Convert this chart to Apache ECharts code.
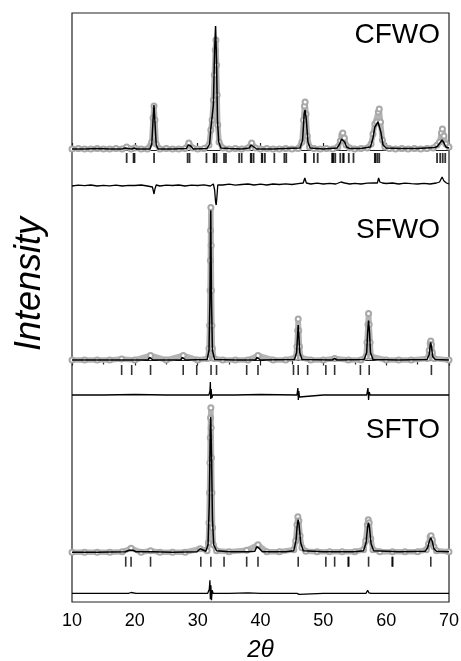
<!DOCTYPE html>
<html>
<head>
<meta charset="utf-8">
<script src="https://cdn.jsdelivr.net/npm/echarts@6/dist/echarts.min.js"></script>
<style>
html,body{margin:0;padding:0;background:#fff;}
#chart{width:461px;height:661px;}
</style>
</head>
<body>
<div id="chart"></div>
<script>
// ---------- data (2theta in degrees, intensity in arbitrary units) ----------
const xTicks = [10, 20, 30, 40, 50, 60, 70];
const sampleNames = ['CFWO', 'SFWO', 'SFTO'];

const cfwoCalc = [[10,1],[12,1],[14,1.5],[16,1],[18,1],[18.5,2],[18.7,3],[18.9,1.5],[19.5,1],[19.9,2],[20.3,1],[22.4,1],[22.7,6],[22.9,30],[23.05,45],[23.2,28],[23.4,5],[23.7,1],[26,1],[28.2,1.5],[28.5,5],[28.7,6],[28.9,4],[29.3,1],[31.5,1.5],[31.9,6],[32.1,22],[32.3,33],[32.5,45],[32.7,100],[32.85,124],[33.0,90],[33.15,30],[33.35,8],[33.7,2],[35,1.5],[37,1],[38.2,2],[38.5,5],[38.7,6],[38.95,3],[39.4,1],[42,1],[44,1.5],[46.3,2],[46.7,10],[46.95,36],[47.1,40],[47.3,30],[47.55,8],[47.9,2],[50,1],[52.2,2],[52.6,6],[52.9,11],[53.1,12],[53.4,8],[53.7,3],[54.2,1.5],[56,1.5],[57.5,3],[57.9,12],[58.2,23],[58.45,22],[58.7,28],[58.9,30],[59.15,18],[59.5,5],[60,2],[62,1.5],[65,1.5],[67.8,2.5],[68.2,4],[68.5,5],[68.9,10],[69.2,7],[69.5,3],[70,2]];
const cfwoObs = [[10,1],[11,1.5],[12,1],[13,1],[14,1.5],[15,1],[16,1],[17,1.5],[18,1],[18.7,3],[19.4,1],[20,2],[21,1],[22,1],[22.7,8],[22.9,32],[23.05,44],[23.2,30],[23.4,6],[24,1],[25,1.5],[26,1],[27,1],[28,1.5],[28.6,7],[29.2,2],[30,1],[31,1.5],[31.8,5],[32.1,20],[32.3,30],[32.5,50],[32.65,75],[32.8,100],[32.9,110],[33.0,85],[33.1,55],[33.2,25],[33.4,8],[34,2],[35,1],[36,1.5],[37,1],[38,2],[38.6,7],[39.2,2],[40,1],[41,1.5],[42,1],[43,1],[44,1.5],[45,1],[46,1.5],[46.6,8],[46.85,30],[47.0,44],[47.1,48],[47.25,36],[47.45,14],[47.8,3],[48.5,1.5],[49.5,1],[50.5,1.5],[51.5,1],[52.3,3],[52.7,9],[52.95,15],[53.1,17],[53.35,12],[53.6,5],[54.2,2],[55,1],[56,1.5],[57,2],[57.6,6],[57.9,16],[58.2,26],[58.5,28],[58.75,38],[58.9,41],[59.1,28],[59.4,10],[59.8,3],[60.5,1.5],[61.5,1],[62.5,1.5],[63.5,1],[64.5,1.5],[65.5,1],[66.5,1.5],[67.5,2],[68.1,5],[68.5,8],[68.8,17],[68.95,21],[69.2,14],[69.5,6],[70,3]];
const cfwoDiff = [[10,0],[11,0.8],[12,0.3],[13,1],[14,0],[15,0.6],[16,0.2],[17,0.9],[18,0],[19,0.7],[20,0.5],[21,1],[22,0],[22.8,-1],[22.95,-5],[23.05,-8],[23.2,-3],[23.4,1],[24,0],[25,0.8],[26,0.5],[27,1],[28,0],[29,0.8],[30,0.5],[31,1.2],[32,0],[32.3,-2],[32.5,2],[32.7,-4],[32.85,-16],[32.95,-19],[33.05,-12],[33.2,1],[33.4,2],[34,1],[35,1.8],[36,0.8],[37,1.5],[38,2],[39,1],[40,1.8],[41,1],[42,2],[43,1.5],[44,2.2],[45,1.5],[46,2.4],[46.8,3],[47.05,8],[47.3,3],[48,2],[49,2.8],[50,2],[51,2.6],[52,2],[52.8,4],[53.1,5],[53.4,3],[54.2,2],[55,2.6],[56,2],[57,2.8],[58,3],[58.3,5],[58.6,3],[58.8,8],[59.0,4],[59.4,3],[60,2.5],[61,3],[62,2],[63,2.8],[64,2.3],[65,2],[66,2.7],[67,2],[68,3],[68.5,4],[68.9,9],[69.2,5],[69.6,3],[70,2]];
const cfwoBragg = [18.7,19.8,19.95,23.06,28.4,28.7,31.4,32.55,32.65,33.0,34.2,34.5,36.6,37.0,38.45,38.55,38.9,40.2,40.3,40.7,42.2,43.8,44.1,47.05,47.15,48.5,49.1,51.4,51.5,51.6,51.9,52.7,53.15,53.25,54.05,54.8,58.2,58.3,58.6,58.9,68.1,68.6,69.0,69.4];

const sfwoCalc = [[10,0.5],[14,0.5],[17.6,0.5],[17.9,1.5],[18.2,0.5],[22.1,0.5],[22.35,3],[22.5,5],[22.65,3],[22.9,0.5],[27.3,0.5],[27.55,3],[27.7,5],[27.85,3],[28.1,0.5],[31.5,1],[31.8,10],[31.95,60],[32.08,150],[32.2,60],[32.35,10],[32.7,1],[36,0.5],[39.2,0.5],[39.45,3],[39.6,5],[39.75,3],[40,0.5],[45.4,1],[45.75,8],[45.9,25],[46.0,35.5],[46.1,25],[46.25,8],[46.6,1],[51.4,0.5],[51.8,2],[52.2,0.5],[56.5,1],[56.9,8],[57.05,28],[57.2,40],[57.35,28],[57.5,8],[57.9,1],[62,0.5],[66.5,1],[66.85,6],[67.0,15],[67.1,18],[67.25,12],[67.4,4],[67.8,1],[70,0.5]];
const sfwoObs = [[10,0.5],[12,0.5],[14,0.5],[16,0.5],[17.9,1.5],[20,0.5],[22.5,5],[25,0.5],[27.7,5],[30,0.5],[31.6,2],[31.8,12],[31.9,35],[31.97,70],[32.02,100],[32.06,130],[32.1,153],[32.15,115],[32.2,70],[32.27,35],[32.35,12],[32.6,2],[34,0.5],[36,0.5],[38,0.5],[39.6,5],[42,0.5],[44,0.5],[45.6,3],[45.8,14],[45.92,30],[46.0,41.5],[46.08,30],[46.2,14],[46.4,3],[48,0.5],[50,0.5],[51.8,2],[54,0.5],[56,0.5],[56.8,4],[56.95,18],[57.1,36],[57.2,47],[57.3,36],[57.45,18],[57.6,4],[60,0.5],[62,0.5],[64,0.5],[66.6,2],[66.85,10],[67.0,17],[67.1,19.5],[67.2,16],[67.35,8],[67.6,2],[70,0.5]];
const sfwoDiff = [[10,0],[15,0],[20,0.5],[25,0],[31.8,0],[31.95,4],[32.02,13],[32.08,-4],[32.15,6],[32.25,-3],[32.4,0],[36,0],[40,0.5],[45.8,0],[45.95,7],[46.02,-5],[46.1,4],[46.2,-2],[46.4,0],[50,0],[56.9,0],[57.1,7],[57.2,-5],[57.3,3],[57.45,0],[62,0],[66.9,0],[67.05,2],[67.15,-1],[67.3,0],[70,0]];
const sfwoBragg = [17.9,19.5,22.5,27.7,29.85,32.13,33.0,37.8,39.6,45.25,46.0,47.5,50.4,51.8,55.9,57.3,67.2];

const sftoCalc = [[10,0.5],[14,0.5],[18.5,1],[19.1,2.5],[19.4,4],[19.7,2.5],[20.2,1],[22.2,1],[22.5,2],[22.8,1],[26,0.5],[29.9,1],[30.2,3],[30.4,4],[30.65,2],[31.3,1.5],[31.65,8],[31.85,50],[32.0,120],[32.08,136],[32.2,100],[32.35,35],[32.55,8],[33,2],[35,1],[37.5,1],[37.8,2.5],[38.1,1],[39.1,1.5],[39.4,6],[39.6,7.5],[39.85,4],[40.3,1],[44,1],[45.3,2],[45.65,12],[45.85,28],[46.0,33],[46.15,27],[46.4,10],[46.8,2],[50,1],[52,1],[55,1],[56.4,2],[56.8,10],[57.05,26],[57.2,30],[57.35,25],[57.6,9],[58,2],[62,1],[66.2,1.5],[66.6,5],[66.9,12],[67.1,15],[67.3,12],[67.6,4],[68,1.5],[70,1]];
const sftoObs = [[10,0.5],[12,0.5],[14,0.5],[16,0.5],[18,1],[19.4,4.5],[21,0.5],[22.5,2],[24,0.5],[26,0.5],[28,0.5],[30.4,4],[31.5,2],[31.7,10],[31.8,30],[31.88,60],[31.95,90],[32.0,115],[32.05,135],[32.1,145],[32.15,125],[32.2,95],[32.28,60],[32.38,25],[32.5,8],[33,2],[35,1],[37.8,2.5],[39.6,8],[41,1],[43,1],[45.3,3],[45.6,12],[45.8,28],[45.95,36],[46.1,32],[46.3,17],[46.6,5],[47.2,1.5],[49,1],[51,1],[53,1],[55,1],[56.4,3],[56.75,12],[57.0,28],[57.15,33],[57.3,30],[57.55,14],[57.9,3],[59,1],[61,1],[63,1],[65,1],[66.4,3],[66.75,9],[67.0,16],[67.15,17],[67.35,13],[67.6,6],[68,2],[70,1]];
const sftoDiff = [[10,0],[15,0],[19,0],[19.4,0.8],[19.7,-0.8],[20.2,0],[25,0],[30,0],[31.6,0],[31.85,4],[31.95,13],[32.02,-6],[32.1,8],[32.2,-7],[32.3,3],[32.45,0],[35,0],[38,0.5],[40,0],[45.8,0],[46.0,1.5],[46.15,-1],[46.4,0],[50,0],[56.8,0],[57.05,3],[57.25,0.5],[57.6,0],[62,0],[67,0],[67.15,1],[67.4,0],[70,0]];
const sftoBragg = [18.55,19.4,22.5,30.5,32.1,34.2,37.8,39.6,46.0,50.4,51.8,53.95,54.05,57.2,60.95,61.05,67.1];

// ---------- layout (not data) ----------
const panels = [
  {name: sampleNames[0], calc: cfwoCalc, obs: cfwoObs, diff: cfwoDiff, bragg: cfwoBragg,
   yMin: -452, yMax: 137, braggLevel: -8, diffOffset: -36, labelY: 37, tickW: 1.8},
  {name: sampleNames[1], calc: sfwoCalc, obs: sfwoObs, diff: sfwoDiff, bragg: sfwoBragg,
   yMin: -241.5, yMax: 347.5, braggLevel: -9.5, diffOffset: -34.5, labelY: 232, tickW: 1.6},
  {name: sampleNames[2], calc: sftoCalc, obs: sftoObs, diff: sftoDiff, bragg: sftoBragg,
   yMin: -49.3, yMax: 539.7, braggLevel: -9, diffOffset: -40.6, labelY: 432, tickW: 1.6}
];

const FONT = '"Liberation Sans", Arial, Helvetica, sans-serif';
const chart = echarts.init(document.getElementById('chart'), null, {renderer: 'canvas'});

const yAxes = panels.map(p => ({
  type: 'value', min: p.yMin, max: p.yMax, show: false, gridIndex: 0
}));

const series = [];
panels.forEach((p, i) => {
  series.push({
    type: 'line', xAxisIndex: 0, yAxisIndex: i, data: p.obs,
    symbol: 'emptyCircle', symbolSize: 5, showSymbol: true,
    itemStyle: {color: '#a8a8a8', borderColor: '#a0a0a0', borderWidth: 1},
    lineStyle: {color: '#b4b4b4', width: 5.5},
    silent: true, animation: false, z: 2
  });
  series.push({
    type: 'line', xAxisIndex: 0, yAxisIndex: i, data: p.calc,
    symbol: 'none', lineStyle: {color: '#000', width: 1.5},
    silent: true, animation: false, z: 3
  });
  series.push({
    type: 'line', xAxisIndex: 0, yAxisIndex: i,
    data: p.diff.map(d => [d[0], d[1] + p.diffOffset]),
    symbol: 'none', lineStyle: {color: '#000', width: 1.3},
    silent: true, animation: false, z: 3
  });
  series.push({
    type: 'scatter', xAxisIndex: 0, yAxisIndex: i,
    data: p.bragg.map(x => [x, p.braggLevel]),
    symbol: 'rect', symbolSize: [p.tickW, 10],
    itemStyle: {color: '#000'},
    silent: true, animation: false, z: 3
  });
});

const graphics = panels.map(p => ({
  type: 'text', right: 21, top: p.labelY - 16,
  style: {text: p.name, font: '28px ' + FONT, fill: '#000'}
}));
graphics.push({
  type: 'text', x: 30, y: 284, rotation: Math.PI / 2,
  style: {text: 'Intensity', font: 'italic 36px ' + FONT, fill: '#000',
          textAlign: 'center', textVerticalAlign: 'middle'}
});

chart.setOption({
  animation: false,
  backgroundColor: '#fff',
  grid: {left: 72, right: 12, top: 13, bottom: 59, show: true, containLabel: false,
         outerBoundsMode: 'none',
         borderColor: '#222', borderWidth: 1.2, backgroundColor: 'transparent'},
  xAxis: [
    {type: 'value', min: xTicks[0], max: xTicks[xTicks.length - 1], interval: 10,
     position: 'bottom',
     axisLine: {show: true, lineStyle: {color: '#222', width: 1.2}},
     axisTick: {show: true, inside: true, length: 7, lineStyle: {color: '#222', width: 1.2}},
     minorTick: {show: true, splitNumber: 2, length: 4, lineStyle: {color: '#222', width: 1.2}},
     splitLine: {show: false}, minorSplitLine: {show: false},
     axisLabel: {color: '#000', fontSize: 18, fontFamily: FONT, margin: 10},
     name: '2θ', nameLocation: 'middle', nameGap: 36,
     nameTextStyle: {color: '#000', fontSize: 24, fontStyle: 'italic', fontFamily: FONT}},
    {type: 'value', min: xTicks[0], max: xTicks[xTicks.length - 1], interval: 10,
     position: 'top',
     axisLine: {show: true, lineStyle: {color: '#222', width: 1.2}},
     axisTick: {show: true, inside: true, length: 5, lineStyle: {color: '#222', width: 1.2}},
     minorTick: {show: true, splitNumber: 2, length: 4, lineStyle: {color: '#222', width: 1.2}},
     splitLine: {show: false}, axisLabel: {show: false}}
  ],
  yAxis: yAxes,
  series: series,
  graphic: graphics
});
</script>
</body>
</html>
